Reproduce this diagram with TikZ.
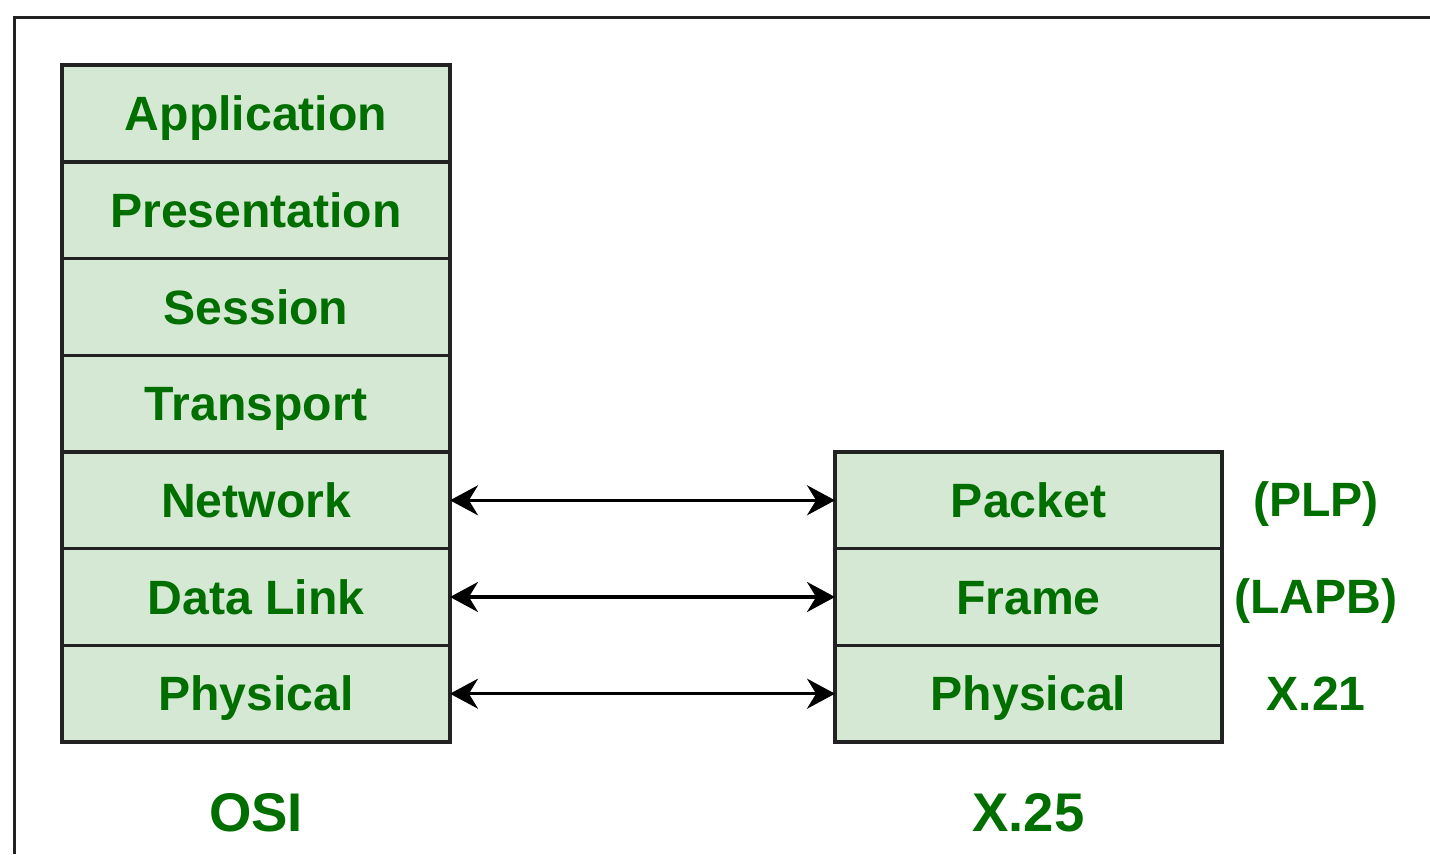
\documentclass[tikz,border=0pt]{standalone}
\usepackage{fontspec}
\setmainfont{Liberation Sans}
\usepackage{xcolor}
\usepackage{tikz}
\usetikzlibrary{arrows.meta,positioning}

\definecolor{layerfill}{HTML}{D5E8D4}
\definecolor{layertext}{HTML}{006F00}
\definecolor{layerline}{HTML}{222222}

\tikzset{
	layer/.style={draw=layerline,line width=0.95pt,fill=layerfill,text=layertext,
		minimum width=3.88cm,minimum height=0.967cm,inner sep=0pt,outer sep=0pt,
		text height=0.345cm,text depth=0pt,
		font=\fontsize{13.7}{16}\selectfont\bfseries},
	lbl/.style={text=layertext,inner sep=0pt,text height=0.345cm,text depth=0pt,
		font=\fontsize{13.7}{16}\selectfont\bfseries},
	lbig/.style={text=layertext,inner sep=0pt,text height=0.39cm,text depth=0pt,
		font=\fontsize{15.5}{18}\selectfont\bfseries},
	link/.style={line width=0.95pt,{Stealth[length=0.28cm,width=0.3cm]}-{Stealth[length=0.28cm,width=0.3cm]}},
}

\begin{document}
\begin{tikzpicture}
		\useasboundingbox (0,0) rectangle (14.3,8.54);
		% outer frame
		\draw[line width=1.1pt,layerline] (0.145,0) -- (0.145,8.365) -- (14.3,8.365);
		% OSI stack
		\node[layer] (app) at (2.56,7.405) {Application};
		\node[layer,below=0pt of app] (pres) {Presentation};
		\node[layer,below=0pt of pres] (sess) {Session};
		\node[layer,below=0pt of sess] (trans) {Transport};
		\node[layer,below=0pt of trans] (net) {Network};
		\node[layer,below=0pt of net] (dlink) {Data Link};
		\node[layer,below=0pt of dlink] (phys) {Physical};
		\node[lbig] (osi) at (2.56,0.42) {OSI};
		% X.25 stack
		\node[layer,minimum width=3.87cm,right=3.85cm of net] (pkt) {Packet};
		\node[layer,minimum width=3.87cm,below=0pt of pkt] (frm) {Frame};
		\node[layer,minimum width=3.87cm,below=0pt of frm] (xphys) {Physical};
		\node[lbig] (xtf) at (10.285,0.42) {X.25};
		\node[lbl] (plp) at (13.16,3.545) {(PLP)};
		\node[lbl] (lapb) at (13.16,2.575) {(LAPB)};
		\node[lbl] (xto) at (13.16,1.605) {X.21};
		% links
		\draw[link] (net.east) -- (pkt.west);
		\draw[link] (dlink.east) -- (frm.west);
		\draw[link] (phys.east) -- (xphys.west);
	\end{tikzpicture}
\end{document}
